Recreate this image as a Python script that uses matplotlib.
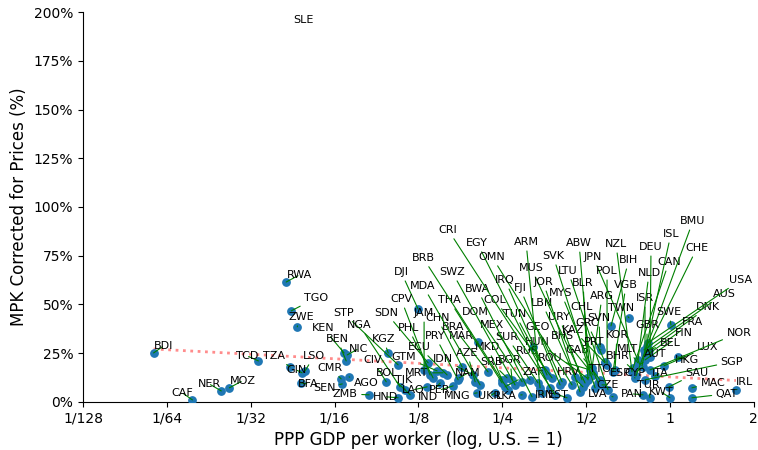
import numpy as np
import matplotlib
matplotlib.use('Agg')
import matplotlib.pyplot as plt
from matplotlib.ticker import FuncFormatter

# Data: GDP per worker relative to U.S., MPK corrected for prices (%)
countries = ['BDI', 'CAF', 'NER', 'MOZ', 'TCD', 'RWA', 'TGO', 'ZWE', 'TZA', 'GIN',
             'LSO', 'BFA', 'KEN', 'BEN', 'NIC', 'CMR', 'SEN', 'AGO', 'ZMB', 'HND',
             'STP', 'NGA', 'SDN', 'KGZ', 'CIV', 'GTM', 'BOL', 'MRT', 'TJK', 'LAO',
             'IND', 'PER', 'MNG', 'DJI', 'CPV', 'JAM', 'PHL', 'CHN', 'PRY', 'ECU',
             'IDN', 'BRA', 'MAR', 'AZE', 'NAM', 'MKD', 'SRB', 'BGR', 'RUS', 'DOM',
             'MEX', 'SUR', 'TUN', 'COL', 'GEO', 'LBN', 'URY', 'HUN', 'BHS', 'ROU',
             'GAB', 'KAZ', 'ZAF', 'HRV', 'UKR', 'LKA', 'IRN', 'EST', 'LVA', 'CZE',
             'BWA', 'THA', 'SWZ', 'MDA', 'BRB', 'CRI', 'EGY', 'OMN', 'IRQ', 'FJI',
             'ARM', 'MUS', 'JOR', 'MYS', 'LTU', 'SVK', 'ABW', 'JPN', 'NZL', 'BLR',
             'POL', 'CHL', 'ARG', 'BIH', 'VGB', 'SVN', 'GRC', 'TWN', 'PRT', 'KOR',
             'MLT', 'BHR', 'TTO', 'ESP', 'CYP', 'PAN', 'TUR', 'KWT', 'ISR', 'NLD',
             'DEU', 'CAN', 'ISL', 'BMU', 'CHE', 'GBR', 'SWE', 'DNK', 'AUS', 'USA',
             'FRA', 'FIN', 'BEL', 'AUT', 'LUX', 'HKG', 'ITA', 'NOR', 'SGP', 'SAU',
             'MAC', 'QAT', 'IRL', 'SLE']

gdp_rel = [0.0140, 0.0193, 0.0245, 0.0262, 0.0333, 0.0419, 0.0437, 0.0459, 0.0433, 0.0478,
           0.0490, 0.0474, 0.0676, 0.0688, 0.0694, 0.0660, 0.0666, 0.0705, 0.0832, 0.1057,
           0.1057, 0.1074, 0.1355, 0.0974, 0.0958, 0.1459, 0.1168, 0.1532, 0.1120, 0.1344,
           0.1496, 0.1665, 0.2031, 0.1246, 0.1376, 0.1310, 0.1411, 0.1795, 0.1735, 0.1585,
           0.1965, 0.2223, 0.2048, 0.1998, 0.1750, 0.2497, 0.2600, 0.2711, 0.3224, 0.2947,
           0.3144, 0.3360, 0.3559, 0.3773, 0.4100, 0.4562, 0.4833, 0.5038, 0.5295, 0.5165,
           0.5609, 0.5848, 0.2558, 0.4873, 0.2355, 0.2947, 0.3470, 0.4271, 0.6245, 0.5700,
           0.3198, 0.2497, 0.2779, 0.2081, 0.2622, 0.3869, 0.3713, 0.4450, 0.3620, 0.4031,
           0.3416, 0.4955, 0.4756, 0.5517, 0.5991, 0.5384, 0.5165, 0.7805, 0.7305, 0.5080,
           0.5944, 0.5295, 0.5252, 0.6141, 0.6245, 0.5609, 0.5848, 0.7124, 0.5652, 0.6350,
           0.7679, 0.7367, 0.5038, 0.7490, 0.8000, 0.8000, 0.8478, 1.0000, 0.8134, 0.7679,
           0.8478, 0.7367, 0.7934, 0.7552, 0.8202, 0.8270, 1.0080, 0.8134, 0.8066, 0.8339,
           0.8202, 0.8134, 0.8409, 0.7869, 0.9516, 1.0680, 0.8834, 0.8478, 0.8134, 0.9918,
           1.1990, 1.1990, 1.7250, 0.0482]

# SLE sits above the 200% ceiling (only its label shows)
mpk = [25.1, 1.0, 5.6, 7.2, 21.0, 61.5, 46.7, 38.5, 17.9, 14.9,
       15.9, 9.7, 25.1, 21.0, 24.1, 11.8, 9.2, 12.8, 3.6, 2.1,
       19.0, 7.7, 20.0, 25.1, 10.3, 15.9, 3.6, 14.9, 6.2, 7.7,
       9.7, 8.2, 4.6, 47.7, 13.8, 16.4, 12.3, 17.9, 11.3, 13.8,
       13.8, 15.4, 30.8, 10.3, 12.3, 11.3, 12.3, 11.3, 28.2, 10.3,
       11.3, 9.7, 16.4, 12.3, 10.3, 12.8, 11.3, 12.3, 13.8, 16.4,
       11.3, 20.0, 7.7, 7.7, 4.6, 3.6, 4.6, 2.1, 2.6, 8.7,
       2.6, 9.7, 8.7, 8.7, 6.2, 3.6, 7.2, 8.7, 13.8, 8.7,
       7.2, 9.7, 5.1, 9.7, 6.2, 7.2, 13.3, 19.0, 15.4, 11.3,
       19.0, 14.9, 17.4, 39.0, 15.4, 28.2, 20.5, 43.1, 26.7, 16.4,
       20.0, 16.4, 11.8, 12.3, 17.9, 3.6, 2.1, 2.1, 24.1, 21.5,
       23.1, 17.4, 18.5, 13.3, 25.6, 28.7, 39.5, 25.1, 26.7, 30.3,
       23.6, 21.5, 26.7, 19.5, 18.5, 23.1, 13.3, 16.4, 11.3, 7.7,
       7.2, 2.1, 6.2, 250.0]

# label offsets from their point, in pixels (as placed in the original)
label_offsets = [(10, 7), (-10, 7), (-12, 7), (13, 7), (-11, 5), (13, 7), (25, 13), (4, 10), (-16, 11), (-6, 3),
                 (9, 15), (7, -1), (-21, 25), (-9, 22), (11, 6), (-11, 11), (-18, -4), (17, -6), (-24, 1), (-13, 1),
                 (-55, 52), (-41, 62), (-42, 50), (-5, 14), (-14, 22), (-33, 14), (-23, 22), (-26, 0), (-2, 10), (-14, -3),
                 (-12, -14), (-13, -4), (-20, -3), (-17, 37), (-29, 76), (0, 57), (-25, 50), (-25, 49), (-23, 44), (-28, 28),
                 (-30, 16), (-35, 45), (-17, 6), (-8, 29), (9, 5), (-15, 33), (-16, 16), (-2, 20), (-6, -4), (-47, 70),
                 (-38, 55), (-31, 46), (-30, 56), (-57, 78), (-25, 55), (-33, 74), (-23, 63), (-50, 36), (-31, 39), (-40, 12),
                 (-23, 30), (-32, 33), (28, 15), (-15, 15), (-5, -3), (-16, -1), (3, -2), (-9, 3), (-15, 3), (6, 0),
                 (-55, 108), (-53, 83), (-63, 113), (-57, 99), (-85, 132), (-107, 165), (-73, 145), (-80, 128), (-42, 95), (-40, 97),
                 (-14, 146), (-54, 115), (-37, 110), (-37, 90), (-40, 119), (-42, 132), (-11, 133), (-47, 108), (-16, 128), (-5, 97),
                 (0, 94), (-11, 66), (10, 72), (18, 66), (13, 87), (-1, 29), (-18, 39), (-8, 10), (-7, 8), (2, 35),
                 (-11, 14), (-15, 14), (13, 10), (-15, 5), (-8, -6), (-11, 1), (-2, 13), (-9, 6), (0, 57), (11, 87),
                 (1, 110), (36, 106), (29, 132), (57, 155), (51, 104), (0, 21), (-2, 13), (63, 46), (80, 56), (93, 63),
                 (47, 34), (39, 27), (21, 7), (14, 10), (44, 19), (9, -3), (5, 3), (89, 37), (87, 18), (28, 14),
                 (21, 5), (35, 4), (9, 8), None]

xticks = [1/128, 1/64, 1/32, 1/16, 1/8, 1/4, 1/2, 1, 2]
xtick_labels = ['1/128', '1/64', '1/32', '1/16', '1/8', '1/4', '1/2', '1', '2']

gdp_rel = np.array(gdp_rel)
mpk = np.array(mpk)

fig = plt.figure(figsize=(7.58, 4.5), dpi=100)
ax = fig.add_axes([0.1095, 0.107, 0.885, 0.866])

ax.scatter(gdp_rel, mpk, s=28, color='#1f77b4', zorder=3)

# log-linear fit over all countries
lx = np.log2(gdp_rel)
coef = np.polyfit(lx, mpk, 1)
xs = np.linspace(lx.min(), lx.max(), 50)
ax.plot(2.0 ** xs, np.polyval(coef, xs), color='red', alpha=0.45, ls=':', lw=2, zorder=2)

for name, gx, my, off in zip(countries, gdp_rel, mpk, label_offsets):
    if off is None:
        # off the top of the chart, label pinned near the top
        ax.text(gx, 196, name, fontsize=8, ha='center', va='center')
        continue
    ax.annotate(name, xy=(gx, my), xytext=off, textcoords='offset pixels',
                fontsize=8, ha='center', va='center', zorder=4,
                arrowprops=dict(arrowstyle='-', color='green', lw=0.8,
                                shrinkA=1, shrinkB=0))

ax.set_xscale('log', base=2)
ax.set_xlim(1/128, 2)
ax.set_ylim(0, 200)
ax.set_xticks(xticks)
ax.set_xticklabels(xtick_labels, fontsize=10)
ax.minorticks_off()
ax.set_yticks(np.arange(0, 201, 25))
ax.yaxis.set_major_formatter(FuncFormatter(lambda v, p: '%d%%' % v))
ax.tick_params(axis='y', labelsize=10)

ax.set_xlabel('PPP GDP per worker (log, U.S. = 1)', fontsize=12)
ax.set_ylabel('MPK Corrected for Prices (%)', fontsize=12)

for pos in ['top', 'right']:
    ax.spines[pos].set_visible(False)

plt.savefig('out.png', dpi=100)
